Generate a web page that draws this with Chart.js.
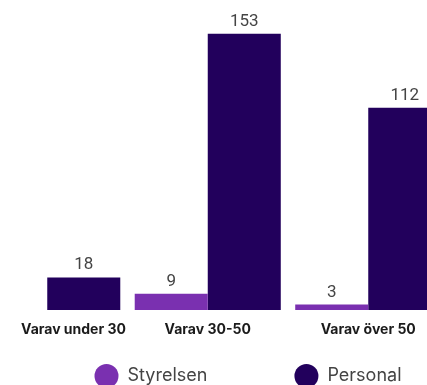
<!DOCTYPE html>
<html>
<head>
<meta charset="utf-8">
<script src="https://cdn.jsdelivr.net/npm/chart.js@4.4.1/dist/chart.umd.min.js"></script>
<style>
  html, body { margin: 0; padding: 0; background: #fff; overflow: hidden; }
  #wrap { position: relative; width: 427px; height: 385px; overflow: hidden; }
  #wrap canvas { position: absolute; left: -33px; top: 0; }
</style>
</head>
<body>
<div id="wrap"><canvas id="ageChart" width="562" height="398"></canvas></div>
<script>
// categories and series
const categories = ['Varav under 30', 'Varav 30-50', 'Varav över 50'];
const seriesNames = ['Styrelsen', 'Personal'];
const styrelsenValues = [null, 9, 3];
const personalValues = [18, 153, 112];
const seriesColors = ['#7a30b0', '#22005c'];

// the chart is cut on the left in the original, keep the first label in view
const keepFirstLabelInView = {
    id: 'keepFirstLabelInView',
    beforeDraw(chart) {
        const item = chart.scales.x.getLabelItems()[0];
        if (!item) return;
        item.options.textAlign = 'left';
        item.options.translation[0] = 54;
    }
};

// value on top of each bar
const barValueLabels = {
    id: 'barValueLabels',
    afterDatasetsDraw(chart) {
        const ctx = chart.ctx;
        ctx.save();
        ctx.font = '17px Roboto';
        ctx.fillStyle = '#444';
        ctx.textAlign = 'center';
        ctx.textBaseline = 'alphabetic';
        chart.data.datasets.forEach((ds, i) => {
            chart.getDatasetMeta(i).data.forEach((bar, j) => {
                const v = ds.data[j];
                if (v === null || v === undefined) return;
                ctx.fillText(String(v), bar.x, bar.y - 8);
            });
        });
        ctx.restore();
    }
};

const ctx = document.getElementById('ageChart').getContext('2d');
new Chart(ctx, {
    type: 'bar',
    data: {
        labels: categories,
        datasets: [{
            label: seriesNames[0],
            data: styrelsenValues,
            backgroundColor: seriesColors[0],
            borderWidth: 0,
            categoryPercentage: 0.91,
            barPercentage: 1
        }, {
            label: seriesNames[1],
            data: personalValues,
            backgroundColor: seriesColors[1],
            borderWidth: 0,
            categoryPercentage: 0.91,
            barPercentage: 1
        }]
    },
    options: {
        responsive: false,
        animation: false,
        layout: {
            padding: { top: 21, left: 0, right: 0, bottom: 0 }
        },
        scales: {
            x: {
                grid: { display: false, drawTicks: false },
                border: { display: false },
                ticks: {
                    color: '#1b1b1b',
                    font: { family: 'Inter', size: 14, weight: '700' },
                    padding: 11,
                    maxRotation: 0,
                    autoSkip: false
                },
                afterFit(scale) { scale.height = 44; }
            },
            y: {
                position: 'right',
                min: 0,
                max: 160,
                grid: { display: false },
                border: { display: false },
                ticks: { display: false },
                afterFit(scale) { scale.width = 80.5; }
            }
        },
        plugins: {
            tooltip: { enabled: false },
            legend: {
                position: 'bottom',
                labels: {
                    boxWidth: 24,
                    boxHeight: 24,
                    useBorderRadius: true,
                    borderRadius: 12,
                    padding: 10,
                    color: '#444',
                    font: { family: 'Inter', size: 18 },
                    generateLabels(chart) {
                        const items = Chart.defaults.plugins.legend.labels.generateLabels(chart);
                        // wider gap between the two entries
                        items[0].text += '\u2003\u2003\u2003\u2003 ';
                        return items;
                    }
                }
            }
        }
    },
    plugins: [keepFirstLabelInView, barValueLabels]
});
</script>
</body>
</html>
